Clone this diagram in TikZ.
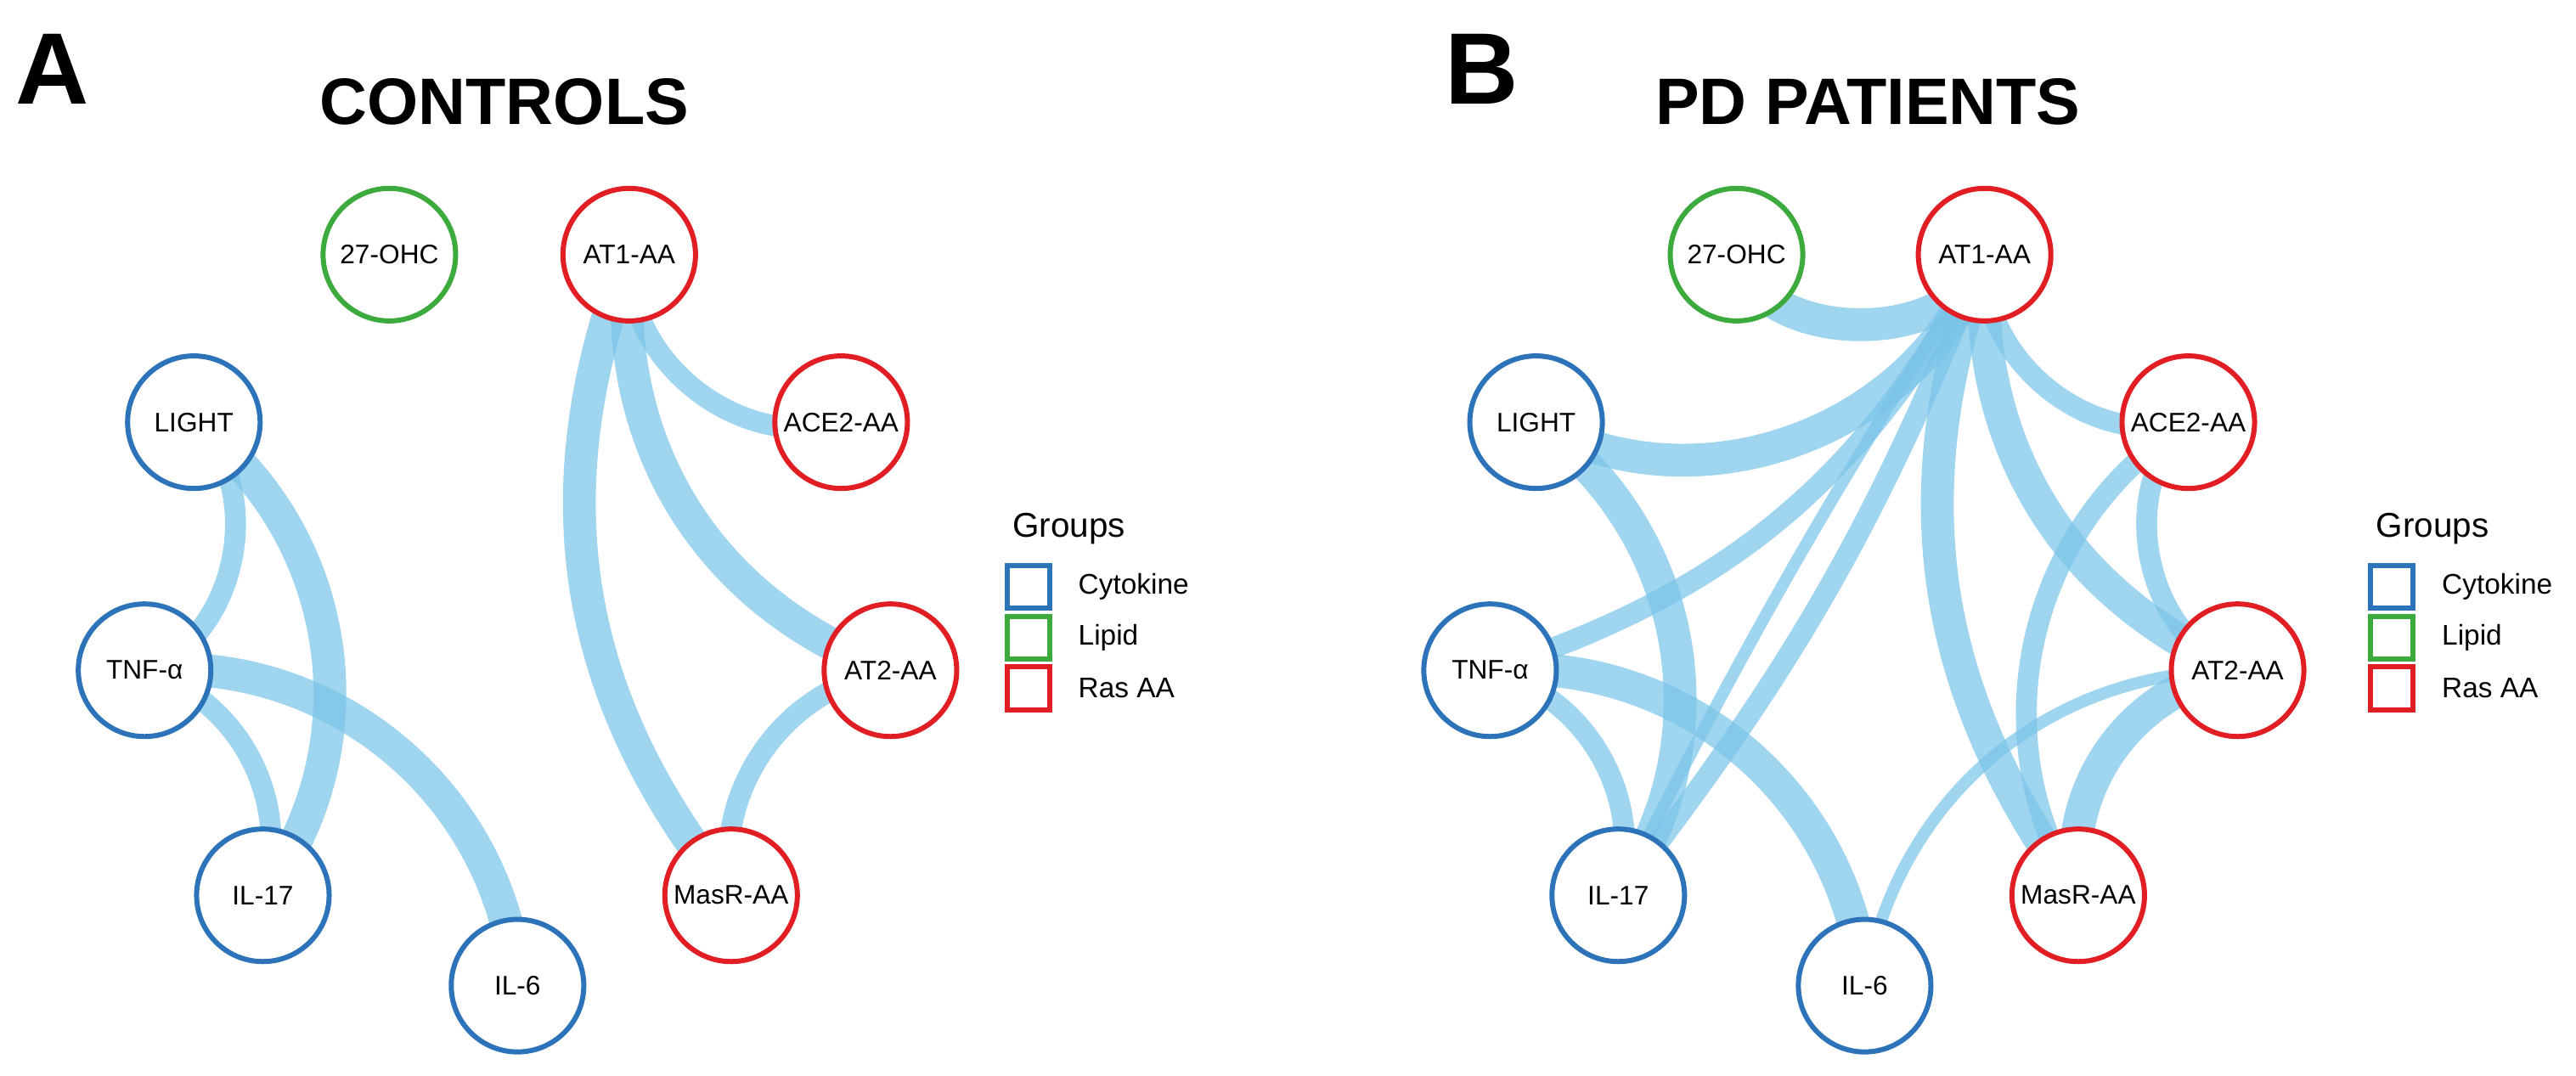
\documentclass[tikz,border=0pt]{standalone}
\usepackage{fontspec}
\setmainfont{Liberation Sans}
\begin{document}
\begin{tikzpicture}[x=0.01934cm,y=-0.01934cm,
 nd/.style={circle,draw,fill=white,line width=1.7pt,minimum size=1.56cm,inner sep=0pt,font=\fontsize{9}{10}\selectfont},
 cy/.style={nd,draw={rgb,255:red,45;green,115;blue,185}},
 li/.style={nd,draw={rgb,255:red,60;green,170;blue,60}},
 ra/.style={nd,draw={rgb,255:red,225;green,30;blue,35}},
 e/.style={draw={rgb,255:red,120;green,195;blue,232},draw opacity=0.7},
 thick e/.style={e,line width=11pt},
 med e/.style={e,line width=7pt},
 thin e/.style={e,line width=4pt},
 lg/.style={minimum size=0.5cm,inner sep=0pt,line width=1.7pt},
 lt/.style={anchor=west,font=\fontsize{9.5}{11}\selectfont}]
\useasboundingbox (0,0) rectangle (1568,655);
\pgfdeclarelayer{bg}\pgfsetlayers{bg,main}
% panel labels
\node[font=\bfseries\fontsize{34}{36}\selectfont] (la) at (32,42) {A};
\node[font=\bfseries\fontsize{34}{36}\selectfont] (lb) at (902,42) {B};
\node[font=\bfseries\fontsize{22}{24}\selectfont] (ta) at (307,62) {CONTROLS};
\node[font=\bfseries\fontsize{22}{24}\selectfont] (tb) at (1137,62) {PD PATIENTS};
% Panel A nodes
\node[li] (a27) at (237,155) {27-OHC};
\node[ra] (aat1) at (383,155) {AT1-AA};
\node[cy] (alight) at (118,257) {LIGHT};
\node[ra] (aace) at (512,257) {ACE2-AA};
\node[cy] (atnf) at (88,408) {TNF-α};
\node[ra] (aat2) at (542,408) {AT2-AA};
\node[cy] (ail17) at (160,545) {IL-17};
\node[ra] (amas) at (445,545) {MasR-AA};
\node[cy] (ail6) at (315,600) {IL-6};
% Panel B nodes
\node[li] (b27) at (1057,155) {27-OHC};
\node[ra] (bat1) at (1208,155) {AT1-AA};
\node[cy] (blight) at (935,257) {LIGHT};
\node[ra] (bace) at (1332,257) {ACE2-AA};
\node[cy] (btnf) at (907,408) {TNF-α};
\node[ra] (bat2) at (1362,408) {AT2-AA};
\node[cy] (bil17) at (985,545) {IL-17};
\node[ra] (bmas) at (1265,545) {MasR-AA};
\node[cy] (bil6) at (1135,600) {IL-6};
\begin{pgfonlayer}{bg}
\draw[med e] (alight.center) to[bend left=60] (atnf.center);
\draw[thick e] (alight.center) to[bend left=45] (ail17.center);
\draw[med e] (atnf.center) to[bend left=45] (ail17.center);
\draw[thick e] (atnf.center) to[bend left=45] (ail6.center);
\draw[med e] (aat1.center) to[bend right=55] (aace.center);
\draw[thick e] (aat1.center) to[bend right=38] (aat2.center);
\draw[thick e] (aat1.center) to[bend right=30] (amas.center);
\draw[med e] (aat2.center) to[bend right=45] (amas.center);
%B
\draw[thick e] (b27.center) to[bend right=75] (bat1.center);
\draw[thick e] (bat1.center) to[bend left=50] (blight.center);
\draw[med e] (bat1.center) to[bend left=22] (btnf.center);
\draw[med e] (bat1.center) to[bend left=8] (bil17.center);
\draw[thin e] (bat1.center) to[bend right=3] (bil17.center);
\draw[med e] (bat1.center) to[bend right=55] (bace.center);
\draw[thick e] (bat1.center) to[bend right=35] (bat2.center);
\draw[thick e] (bat1.center) to[bend right=28] (bmas.center);
\draw[thick e] (blight.center) to[bend left=45] (bil17.center);
\draw[med e] (btnf.center) to[bend left=45] (bil17.center);
\draw[thick e] (btnf.center) to[bend left=45] (bil6.center);
\draw[med e] (bace.center) to[bend right=60] (bat2.center);
\draw[med e] (bace.center) to[bend right=45] (bmas.center);
\draw[thick e] (bat2.center) to[bend right=45] (bmas.center);
\draw[thin e] (bat2.center) to[bend right=40] (bil6.center);
\end{pgfonlayer}
% legends
\foreach \p/\x in {a/612,b/1442}{
 \node[anchor=west,font=\fontsize{11.5}{13}\selectfont] (\p g) at (\x-2,322) {Groups};
 \node[lg,draw={rgb,255:red,45;green,115;blue,185}] (\p s1) at (\x+14,357) {};
 \node[lg,draw={rgb,255:red,60;green,170;blue,60}] (\p s2) at (\x+14,388) {};
 \node[lg,draw={rgb,255:red,225;green,30;blue,35}] (\p s3) at (\x+14,419) {};
 \node[lt] (\p t1) at (\x+38,357) {Cytokine};
 \node[lt] (\p t2) at (\x+38,388) {Lipid};
 \node[lt] (\p t3) at (\x+38,419) {Ras AA};
}
\end{tikzpicture}
\end{document}
